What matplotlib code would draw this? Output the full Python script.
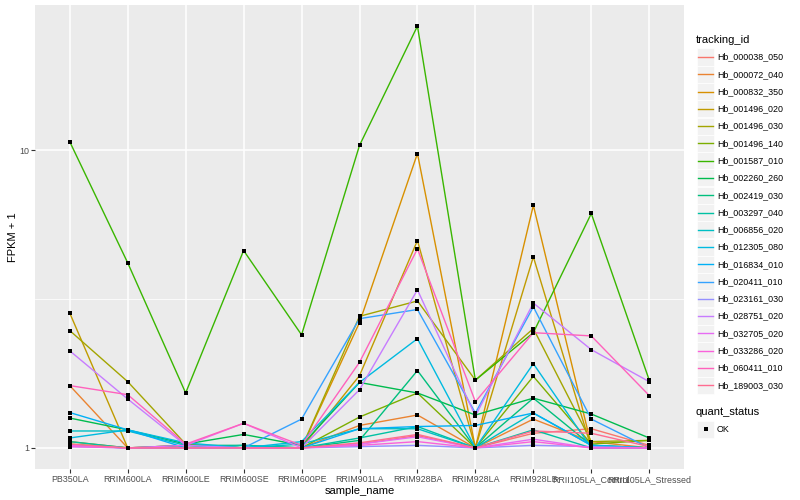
import numpy as np
import matplotlib
matplotlib.use("Agg")
import matplotlib.pyplot as plt
from matplotlib.lines import Line2D
from matplotlib.patches import Rectangle

plt.rcParams['font.family'] = ['Liberation Sans', 'DejaVu Sans']

samples = ["PB350LA", "RRIM600LA", "RRIM600LE", "RRIM600SE", "RRIM600PE",
           "RRIM901LA", "RRIM928BA", "RRIM928LA", "RRIM928LB",
           "RRII105LA_Control", "RRII105LA_Stressed"]

tracking_ids = ["Hb_000038_050", "Hb_000072_040", "Hb_000832_350", "Hb_001496_020",
                "Hb_001496_030", "Hb_001496_140", "Hb_001587_010", "Hb_002260_260",
                "Hb_002419_030", "Hb_003297_040", "Hb_006856_020", "Hb_012305_080",
                "Hb_016834_010", "Hb_020411_010", "Hb_023161_030", "Hb_028751_020",
                "Hb_032705_020", "Hb_033286_020", "Hb_060411_010", "Hb_189003_030"]

colors = ["#F8766D", "#EA8331", "#D89000", "#C09B00", "#A3A500", "#7CAE00",
          "#39B600", "#00BB4E", "#00BF7D", "#00C1A3", "#00BFC4", "#00BAE0",
          "#00B0F6", "#35A2FF", "#9590FF", "#C77CFF", "#E76BF3", "#FA62DB",
          "#FF62BC", "#FF6C91"]

# FPKM + 1 values per series, one value per sample
v_000038_050 = [1.02, 1.00, 1.02, 1.00, 1.00, 1.03, 1.10, 1.00, 1.12, 1.16, 1.02]
v_000072_040 = [1.62, 1.00, 1.02, 1.00, 1.00, 1.19, 1.29, 1.00, 1.25, 1.05, 1.00]
v_000832_350 = [1.05, 1.00, 1.00, 1.00, 1.00, 2.64, 9.77, 1.00, 6.54, 1.02, 1.00]
v_001496_020 = [2.84, 1.00, 1.00, 1.00, 1.00, 1.75, 4.98, 1.00, 4.39, 1.00, 1.00]
v_001496_030 = [2.48, 1.67, 1.03, 1.00, 1.00, 2.77, 3.12, 1.69, 2.52, 1.05, 1.06]
v_001496_140 = [1.03, 1.00, 1.00, 1.00, 1.00, 1.27, 1.53, 1.00, 1.74, 1.03, 1.06]
v_001587_010 = [10.7, 4.19, 1.53, 4.61, 2.40, 10.4, 26.2, 1.69, 2.44, 6.14, 1.69]
v_002260_260 = [1.26, 1.15, 1.03, 1.11, 1.02, 1.66, 1.53, 1.29, 1.47, 1.30, 1.08]
v_002419_030 = [1.02, 1.00, 1.02, 1.02, 1.00, 1.06, 1.82, 1.00, 1.47, 1.02, 1.00]
v_003297_040 = [1.05, 1.00, 1.00, 1.02, 1.00, 1.08, 1.18, 1.00, 1.15, 1.00, 1.00]
v_006856_020 = [1.14, 1.14, 1.02, 1.00, 1.03, 1.16, 1.16, 1.00, 1.31, 1.02, 1.00]
v_012305_080 = [1.08, 1.15, 1.04, 1.00, 1.05, 1.66, 2.33, 1.00, 1.92, 1.00, 1.00]
v_016834_010 = [1.315, 1.15, 1.00, 1.00, 1.00, 1.16, 1.18, 1.19, 1.31, 1.02, 1.00]
v_020411_010 = [1.02, 1.00, 1.00, 1.00, 1.25, 2.72, 2.92, 1.31, 2.98, 1.25, 1.00]
v_023161_030 = [1.01, 1.00, 1.00, 1.00, 1.00, 1.01, 1.02, 1.00, 1.02, 1.01, 1.00]
v_028751_020 = [2.12, 1.46, 1.02, 1.00, 1.00, 1.57, 3.40, 1.28, 3.07, 2.14, 1.67]
v_032705_020 = [1.02, 1.00, 1.02, 1.21, 1.00, 1.03, 1.09, 1.00, 1.07, 1.00, 1.00]
v_033286_020 = [1.01, 1.00, 1.00, 1.00, 1.00, 1.02, 1.05, 1.00, 1.05, 1.00, 1.00]
v_060411_010 = [1.62, 1.51, 1.03, 1.21, 1.02, 1.94, 4.67, 1.43, 2.44, 2.38, 1.50]
v_189003_030 = [1.03, 1.00, 1.00, 1.00, 1.00, 1.04, 1.11, 1.00, 1.14, 1.12, 1.01]

series = [v_000038_050, v_000072_040, v_000832_350, v_001496_020, v_001496_030,
          v_001496_140, v_001587_010, v_002260_260, v_002419_030, v_003297_040,
          v_006856_020, v_012305_080, v_016834_010, v_020411_010, v_023161_030,
          v_028751_020, v_032705_020, v_033286_020, v_060411_010, v_189003_030]

W, H = 800, 500
fig = plt.figure(figsize=(8, 5), dpi=100)
ax = fig.add_axes([35 / W, 1 - 469 / H, (684 - 35) / W, (469 - 5) / H])
ax.set_facecolor("#EBEBEB")
for s in ax.spines.values():
    s.set_visible(False)

x = np.arange(len(samples))
for vals, c in zip(series, colors):
    ax.plot(x, vals, color=c, lw=1.0, zorder=3, solid_capstyle='butt')
for vals in series:
    ax.plot(x, vals, 's', color='black', ms=2.6, mew=0, zorder=4)

ax.set_yscale('log')
allv = np.log10(np.concatenate([np.array(v) for v in series]))
lo, hi = allv.min(), allv.max()
pad = (hi - lo) * 0.05
ax.set_ylim(10 ** (lo - pad), 10 ** (hi + pad))
ax.set_xlim(-0.6, len(samples) - 0.4)

ax.set_yticks([1, 10])
ax.set_yticklabels(["1", "10"])
ax.set_yticks([10 ** 0.5], minor=True)
ax.yaxis.set_minor_formatter(matplotlib.ticker.NullFormatter())
ax.set_xticks(x)
ax.set_xticklabels(samples)

ax.tick_params(axis='both', which='major', length=2.8, width=0.8, color="#333333",
               labelsize=6.4, labelcolor="#4D4D4D", pad=1.5)
ax.tick_params(axis='y', which='minor', length=0)
ax.grid(True, which='major', color='white', lw=1.1, zorder=1)
ax.grid(True, which='minor', axis='y', color='white', lw=0.55, zorder=1)
ax.set_axisbelow(True)

ax.set_xlabel("sample_name", fontsize=8, color="black", labelpad=1.5)
ax.set_ylabel("FPKM + 1", fontsize=8, color="black", labelpad=1.0)

# legend (drawn manually in ggplot style)
def fx(px):
    return px / W

def fy(py):
    return 1 - py / H

fig.text(fx(696), fy(40), "tracking_id", fontsize=8, va='center', ha='left')
for i, (tid, c) in enumerate(zip(tracking_ids, colors)):
    cy = 57 + i * 17.28
    fig.patches.append(Rectangle((fx(697), fy(cy + 8.5)), 17 / W, 17 / H,
                                 transform=fig.transFigure, facecolor="#F2F2F2",
                                 edgecolor='white', lw=0.5))
    fig.lines.append(Line2D([fx(698), fx(713)], [fy(cy), fy(cy)], color=c, lw=1.0,
                            transform=fig.transFigure))
    fig.text(fx(717), fy(cy), tid, fontsize=6.4, va='center', ha='left')

fig.text(fx(696), fy(412), "quant_status", fontsize=8, va='center', ha='left')
fig.patches.append(Rectangle((fx(697), fy(429 + 8.5)), 17 / W, 17 / H,
                             transform=fig.transFigure, facecolor="#F2F2F2",
                             edgecolor='white', lw=0.5))
fig.lines.append(Line2D([fx(705.5)], [fy(429)], marker='s', color='black', ms=2.8,
                        mew=0, transform=fig.transFigure))
fig.text(fx(717), fy(429), "OK", fontsize=6.4, va='center', ha='left')

fig.savefig("out.png", dpi=100)
